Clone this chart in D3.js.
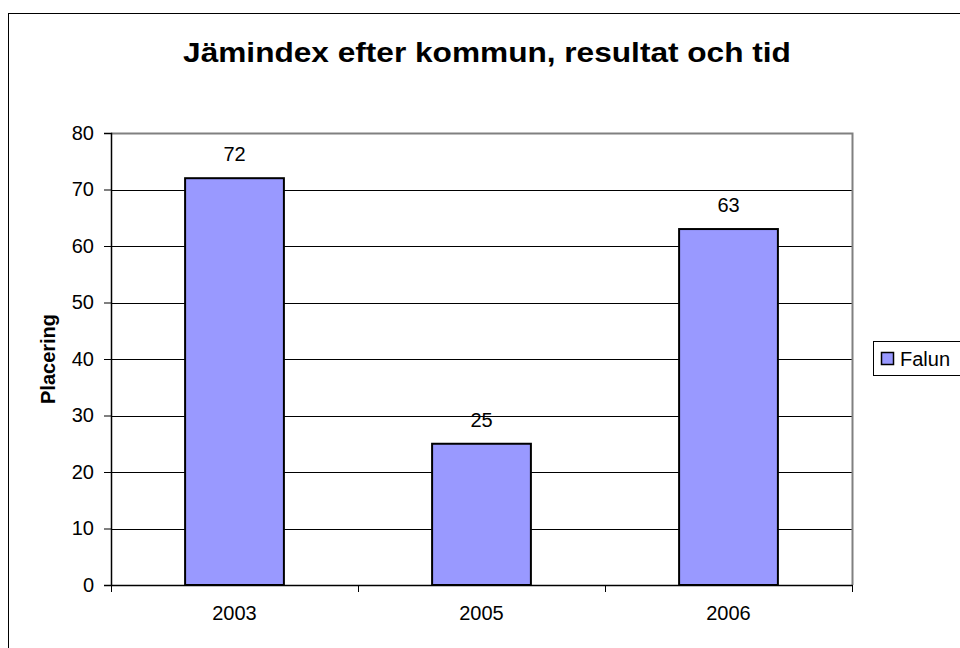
<!DOCTYPE html>
<html><head><meta charset="utf-8">
<script src="https://cdn.jsdelivr.net/npm/d3@7"></script>
<style>body{margin:0;background:#fff}svg{display:block}text{font-family:"Liberation Sans",Arial,sans-serif}</style>
</head><body>
<svg id="c" width="960" height="648"></svg>
<script>
const categories = ["2003", "2005", "2006"];
const seriesName = "Falun";
const values = [72, 25, 63];
const yTicks = [0, 10, 20, 30, 40, 50, 60, 70, 80];
const title = "Jämindex efter kommun, resultat och tid";
const yTitle = "Placering";

const FONT = "Liberation Sans, Arial, sans-serif";
const svg = d3.select("#c");
svg.append("rect").attr("x", 8.5).attr("y", 13.5).attr("width", 1000).attr("height", 700)
  .attr("fill", "#fff").attr("stroke", "#000").attr("stroke-width", 1);

const L = 111, R = 852, T = 133, B = 585;
const x = d3.scaleBand().domain(categories).range([L, R]);
const y = d3.scaleLinear().domain([0, 80]).range([B, T]);

// gridlines
svg.append("g").selectAll("line").data(yTicks.filter(d => d > 0 && d < 80)).join("line")
  .attr("x1", L).attr("x2", R).attr("y1", d => Math.round(y(d)) + 0.5).attr("y2", d => Math.round(y(d)) + 0.5)
  .attr("stroke", "#000").attr("stroke-width", 1);
// plot border top/right gray
svg.append("path").attr("d", `M${L},${T + 0.5}H${R + 0.5}V${B}`).attr("fill", "none")
  .attr("stroke", "#808080").attr("stroke-width", 2);

// bars
const bw = x.bandwidth() / 2.5;
svg.append("g").selectAll("rect").data(values).join("rect")
  .attr("x", (d, i) => x(categories[i]) + (x.bandwidth() - bw) / 2)
  .attr("y", d => y(d))
  .attr("width", bw)
  .attr("height", d => B - y(d))
  .attr("fill", "#9999FF").attr("stroke", "#000").attr("stroke-width", 2);

// value labels
svg.append("g").selectAll("text").data(values).join("text")
  .attr("x", (d, i) => x(categories[i]) + x.bandwidth() / 2)
  .attr("y", d => y(d) - 17)
  .attr("text-anchor", "middle").attr("font-size", 20).text(d => d);

// y axis
const ya = svg.append("g").attr("transform", `translate(${L},0)`)
  .call(d3.axisLeft(y).tickValues(yTicks).tickSize(7).tickPadding(10));
ya.select(".domain").attr("stroke", "#000").attr("stroke-width", 1.5);
ya.selectAll(".tick line").attr("stroke", "#000");
ya.selectAll(".tick text").attr("font-size", 20).attr("fill", "#000").attr("font-family", FONT);

// x axis
const xa = svg.append("g").attr("transform", `translate(0,${B})`)
  .call(d3.axisBottom(x).tickSize(0).tickPadding(21));
xa.select(".domain").attr("stroke", "#000").attr("stroke-width", 1.5);
xa.selectAll(".tick text").attr("font-size", 20).attr("fill", "#000").attr("font-family", FONT);
const xb = [L, ...categories.map(c => x(c) + x.bandwidth())];
svg.append("g").selectAll("line").data(xb).join("line")
  .attr("x1", d => Math.round(d) + 0.5).attr("x2", d => Math.round(d) + 0.5)
  .attr("y1", B).attr("y2", B + 7).attr("stroke", "#000");

// titles
svg.append("text").attr("transform", "translate(487,62) scale(1.15,1)").attr("text-anchor", "middle")
  .attr("font-size", 27.5).attr("font-weight", "bold").text(title);
svg.append("text").attr("transform", `translate(55,${(T + B) / 2}) rotate(-90)`)
  .attr("text-anchor", "middle").attr("font-size", 20).attr("font-weight", "bold").text(yTitle);

// legend
const lg = svg.append("g");
lg.append("rect").attr("x", 873.5).attr("y", 341.5).attr("width", 200).attr("height", 34)
  .attr("fill", "#fff").attr("stroke", "#000");
lg.append("rect").attr("x", 881.5).attr("y", 352.5).attr("width", 12).attr("height", 12)
  .attr("fill", "#9999FF").attr("stroke", "#000").attr("stroke-width", 1.5);
lg.append("text").attr("x", 900).attr("y", 366).attr("font-size", 20).text(seriesName);
</script>
</body></html>
